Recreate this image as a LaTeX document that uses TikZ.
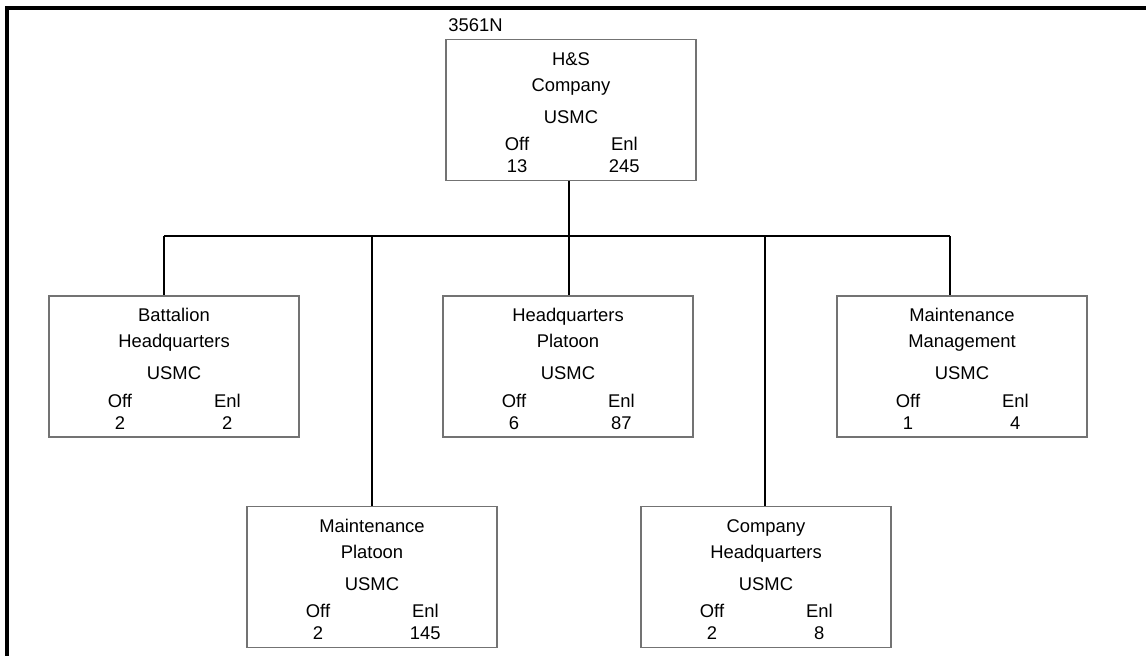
\documentclass[tikz,border=0pt]{standalone}
\usepackage{fontspec}
\setmainfont{Liberation Sans}
\usetikzlibrary{positioning}

% one unit box: name, centre, two title lines, officers, enlisted
\newcommand{\orgunit}[6]{%
  \node[unit] (#1) at (#2) {};
  \node (#1-a) at ([yshift=-15pt]#1.north) {#3};
  \node (#1-b) at ([yshift=-34.5pt]#1.north) {#4};
  \node (#1-usmc) at ([yshift=-58.5pt]#1.north) {USMC};
  \node (#1-off) at ([xshift=-40.5pt,yshift=-79pt]#1.north) {Off};
  \node (#1-enl) at ([xshift=40pt,yshift=-79pt]#1.north) {Enl};
  \node (#1-noff) at ([xshift=-40.5pt,yshift=-95.5pt]#1.north) {#5};
  \node (#1-nenl) at ([xshift=40pt,yshift=-95.5pt]#1.north) {#6};
}

\begin{document}
\begin{tikzpicture}[x=0.75pt, y=-0.75pt,
    every node/.style={font=\fontsize{13.8}{16}\selectfont, inner sep=0pt,
        text height=9.8pt, text depth=0pt},
    unit/.style={draw=black!55, line width=0.9pt, minimum width=187.5pt,
        minimum height=105.75pt, text height=, text depth=},
    link/.style={black, line width=0.9pt}]
    \useasboundingbox (0,0) rectangle (1146,656);
    \draw[line width=2.4pt] (7,660) -- (7,8) -- (1150,8);

    \orgunit{hs}{571,110}{H\&S}{Company}{13}{245}
    \node[anchor=south west] (code) at ([xshift=2pt,yshift=5.5pt]hs.north west) {3561N};

    \orgunit{bhq}{174,366.5}{Battalion}{Headquarters}{2}{2}
    \orgunit{hqp}{568,366.5}{Headquarters}{Platoon}{6}{87}
    \orgunit{mm}{962,366.5}{Maintenance}{Management}{1}{4}
    \orgunit{mp}{372,577}{Maintenance}{Platoon}{2}{145}
    \orgunit{chq}{766,577}{Company}{Headquarters}{2}{8}

    % bus
    \coordinate (top) at (569,236);
    \coordinate (bl) at (164,236);
    \coordinate (br) at (950,236);
    \draw[link] (hs.south -| top) -- (top);
    \draw[link] (bl) -- (br);
    \draw[link] (bl) -- (bl |- bhq.north);
    \draw[link] (top) -- (top |- hqp.north);
    \draw[link] (br) -- (br |- mm.north);
    \draw[link] (mp.north) -- (mp.north |- bl);
    \draw[link] ([xshift=-0.75pt]chq.north) -- ([xshift=-0.75pt]chq.north |- bl);
\end{tikzpicture}
\end{document}
